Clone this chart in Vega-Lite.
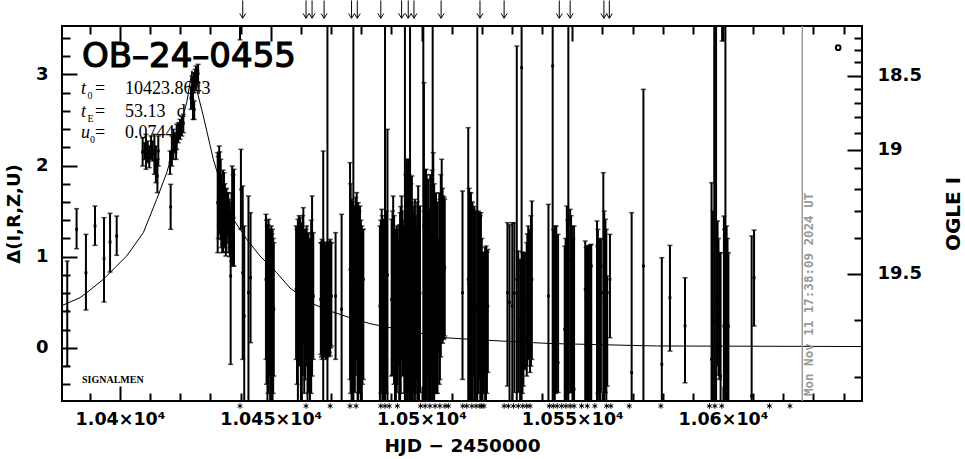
{
  "$schema": "https://vega.github.io/schema/vega-lite/v6.json",
  "width": 800,
  "height": 375,
  "autosize": {"type": "none"},
  "padding": {"left": 62, "top": 26, "right": 103, "bottom": 58},
  "background": "white",
  "config": {
    "view": {"stroke": "black", "strokeWidth": 2},
    "axis": {"domain": false, "grid": false, "ticks": true, "zindex": 1, "labelFont": "DejaVu Sans", "labelFontWeight": "bold", "labelColor": "black", "tickColor": "black", "tickWidth": 2, "tickOpacity": 1, "titleFont": "DejaVu Sans", "titleFontWeight": "bold", "titleColor": "black", "labelFlush": false, "labelOverlap": false, "labelBound": false}
  },
  "datasets": {
    "model": [
      {"t": 10380.76, "d": 0.464}, {"t": 10386.73, "d": 0.55}, {"t": 10388.7, "d": 0.598}, {"t": 10394.46, "d": 0.752},
      {"t": 10402.22, "d": 1.008}, {"t": 10407.73, "d": 1.263}, {"t": 10412.17, "d": 1.63}, {"t": 10415.49, "d": 1.922},
      {"t": 10418.81, "d": 2.289}, {"t": 10422.12, "d": 2.69}, {"t": 10423.86, "d": 3.04}, {"t": 10427.63, "d": 2.544},
      {"t": 10430.95, "d": 2.069}, {"t": 10434.26, "d": 1.703}, {"t": 10437.58, "d": 1.411}, {"t": 10442.02, "d": 1.191},
      {"t": 10446.43, "d": 1.008}, {"t": 10451.97, "d": 0.824}, {"t": 10456.38, "d": 0.656}, {"t": 10463.02, "d": 0.495},
      {"t": 10469.65, "d": 0.404}, {"t": 10476.29, "d": 0.33}, {"t": 10482.92, "d": 0.265}, {"t": 10489.55, "d": 0.221},
      {"t": 10507.79, "d": 0.111}, {"t": 10516.09, "d": 0.093}, {"t": 10526.04, "d": 0.075}, {"t": 10542.62, "d": 0.047},
      {"t": 10578.01, "d": 0.02}, {"t": 10646.1, "d": 0.014}
    ],
    "pts": [
      {"t": 10382.5, "d": 0.404, "lo": -0.2, "hi": 0.952},
      {"t": 10385.6, "d": 1.3, "lo": 1.088, "hi": 1.527},
      {"t": 10388.7, "d": 0.824, "lo": 0.415, "hi": 1.245},
      {"t": 10391.7, "d": 1.337, "lo": 1.124, "hi": 1.556},
      {"t": 10394.7, "d": 0.978, "lo": 0.502, "hi": 1.428},
      {"t": 10396.7, "d": 1.161, "lo": 0.832, "hi": 1.476},
      {"t": 10398.9, "d": 1.227, "lo": 1.015, "hi": 1.446},
      {"t": 10407.5, "d": 2.149, "lo": 1.995, "hi": 2.306},
      {"t": 10408.1, "d": 2.16, "lo": 2.068, "hi": 2.251},
      {"t": 10408.6, "d": 2.141, "lo": 1.959, "hi": 2.343},
      {"t": 10409.2, "d": 2.149, "lo": 2.032, "hi": 2.27},
      {"t": 10409.7, "d": 2.087, "lo": 1.977, "hi": 2.215},
      {"t": 10410.3, "d": 2.215, "lo": 2.068, "hi": 2.325},
      {"t": 10410.8, "d": 2.16, "lo": 2.05, "hi": 2.27},
      {"t": 10411.4, "d": 2.123, "lo": 1.904, "hi": 2.343},
      {"t": 10411.9, "d": 2.014, "lo": 1.812, "hi": 2.215},
      {"t": 10412.4, "d": 1.886, "lo": 1.703, "hi": 2.069},
      {"t": 10412.7, "d": 2.16, "lo": 1.995, "hi": 2.325},
      {"t": 10416.6, "d": 2.032, "lo": 1.904, "hi": 2.16},
      {"t": 10416.8, "d": 1.545, "lo": 1.3, "hi": 1.794},
      {"t": 10417.2, "d": 2.16, "lo": 1.995, "hi": 2.325},
      {"t": 10417.7, "d": 2.233, "lo": 2.068, "hi": 2.398},
      {"t": 10418.2, "d": 2.251, "lo": 2.142, "hi": 2.361},
      {"t": 10418.6, "d": 2.178, "lo": 2.068, "hi": 2.288},
      {"t": 10418.8, "d": 2.314, "lo": 2.178, "hi": 2.453},
      {"t": 10419.3, "d": 2.361, "lo": 2.251, "hi": 2.471},
      {"t": 10419.9, "d": 2.398, "lo": 2.288, "hi": 2.507},
      {"t": 10420.5, "d": 2.434, "lo": 2.325, "hi": 2.544},
      {"t": 10421.0, "d": 2.464, "lo": 2.361, "hi": 2.562},
      {"t": 10423.55, "d": 2.745, "lo": 2.617, "hi": 2.873},
      {"t": 10423.9, "d": 2.855, "lo": 2.727, "hi": 2.983},
      {"t": 10424.2, "d": 2.654, "lo": 2.507, "hi": 2.8},
      {"t": 10424.5, "d": 2.91, "lo": 2.8, "hi": 3.02},
      {"t": 10424.6, "d": 2.617, "lo": 2.507, "hi": 2.709},
      {"t": 10424.9, "d": 2.946, "lo": 2.837, "hi": 3.056},
      {"t": 10425.2, "d": 2.983, "lo": 2.855, "hi": 3.093},
      {"t": 10425.5, "d": 2.954, "lo": 2.873, "hi": 3.038},
      {"t": 10425.9, "d": 3.01, "lo": 2.91, "hi": 3.111},
      {"t": 10432.4, "d": 1.593, "lo": 1.044, "hi": 2.142},
      {"t": 10432.6, "d": 1.65, "lo": 1.2, "hi": 2.1},
      {"t": 10432.9, "d": 1.776, "lo": 1.337, "hi": 2.215},
      {"t": 10433.1, "d": 1.7, "lo": 1.25, "hi": 2.15},
      {"t": 10433.4, "d": 1.629, "lo": 1.19, "hi": 2.069},
      {"t": 10433.6, "d": 1.5, "lo": 1.1, "hi": 1.9},
      {"t": 10433.9, "d": 1.428, "lo": 1.044, "hi": 1.812},
      {"t": 10434.2, "d": 1.48, "lo": 1.05, "hi": 1.95},
      {"t": 10434.5, "d": 1.556, "lo": 1.19, "hi": 1.922},
      {"t": 10434.8, "d": 1.45, "lo": 1.1, "hi": 1.8},
      {"t": 10435.1, "d": 1.373, "lo": 1.007, "hi": 1.739},
      {"t": 10435.3, "d": 1.4, "lo": 1.05, "hi": 1.75},
      {"t": 10435.6, "d": 1.465, "lo": 1.227, "hi": 1.703},
      {"t": 10435.9, "d": 1.42, "lo": 1.15, "hi": 1.7},
      {"t": 10436.2, "d": 1.337, "lo": 1.044, "hi": 1.629},
      {"t": 10436.4, "d": 1.3, "lo": 1.0, "hi": 1.6},
      {"t": 10436.7, "d": 0.788, "lo": -0.182, "hi": 1.483},
      {"t": 10437.0, "d": 1.3, "lo": 0.95, "hi": 1.7},
      {"t": 10437.2, "d": 1.446, "lo": 0.898, "hi": 1.995},
      {"t": 10437.5, "d": 1.35, "lo": 0.9, "hi": 1.9},
      {"t": 10437.8, "d": 1.428, "lo": 0.898, "hi": 1.959},
      {"t": 10439.8, "d": 3.9, "lo": 3.38, "hi": 4.2},
      {"t": 10440.1, "d": 1.739, "lo": 1.3, "hi": 2.178},
      {"t": 10440.7, "d": 0.824, "lo": -0.127, "hi": 1.776},
      {"t": 10441.2, "d": 0.349, "lo": -0.7, "hi": 1.337},
      {"t": 10442.6, "d": 0.605, "lo": -0.6, "hi": 1.666},
      {"t": 10443.3, "d": 0.769, "lo": 0.056, "hi": 1.483},
      {"t": 10448.4, "d": 0.751, "lo": -0.127, "hi": 1.465},
      {"t": 10448.6, "d": 0.6, "lo": -0.4, "hi": 1.4},
      {"t": 10448.9, "d": 0.532, "lo": -0.65, "hi": 1.337},
      {"t": 10449.1, "d": 0.8, "lo": -0.5, "hi": 1.35},
      {"t": 10449.3, "d": 0.971, "lo": -0.054, "hi": 1.41},
      {"t": 10449.5, "d": 0.7, "lo": -0.3, "hi": 1.3},
      {"t": 10449.8, "d": 0.385, "lo": -0.7, "hi": 1.264},
      {"t": 10450.0, "d": 0.5, "lo": -0.8, "hi": 1.3},
      {"t": 10450.2, "d": 0.824, "lo": -0.75, "hi": 1.337},
      {"t": 10450.4, "d": 0.65, "lo": -0.6, "hi": 1.25},
      {"t": 10450.6, "d": 0.532, "lo": -0.8, "hi": 1.3},
      {"t": 10450.8, "d": 0.45, "lo": -0.5, "hi": 1.2},
      {"t": 10451.0, "d": 0.422, "lo": -0.31, "hi": 1.154},
      {"t": 10458.4, "d": 0.641, "lo": -0.127, "hi": 1.337},
      {"t": 10458.7, "d": 0.7, "lo": -0.4, "hi": 1.3},
      {"t": 10459.0, "d": 0.751, "lo": -0.7, "hi": 1.41},
      {"t": 10459.4, "d": 0.85, "lo": -0.2, "hi": 1.45},
      {"t": 10459.7, "d": 0.971, "lo": 0.166, "hi": 1.428},
      {"t": 10460.0, "d": 0.75, "lo": -0.6, "hi": 1.35},
      {"t": 10460.3, "d": 0.605, "lo": -0.8, "hi": 1.373},
      {"t": 10460.6, "d": 0.7, "lo": -0.3, "hi": 1.45},
      {"t": 10460.8, "d": 0.824, "lo": 0.056, "hi": 1.538},
      {"t": 10461.1, "d": 0.6, "lo": -0.5, "hi": 1.3},
      {"t": 10461.4, "d": 0.532, "lo": -0.35, "hi": 1.227},
      {"t": 10461.7, "d": 0.65, "lo": -0.2, "hi": 1.3},
      {"t": 10461.9, "d": 0.788, "lo": 0.239, "hi": 1.337},
      {"t": 10462.2, "d": 0.55, "lo": -0.6, "hi": 1.25},
      {"t": 10462.5, "d": 0.495, "lo": -0.49, "hi": 1.264},
      {"t": 10462.8, "d": 0.5, "lo": -0.4, "hi": 1.2},
      {"t": 10463.0, "d": 0.495, "lo": -0.7, "hi": 1.19},
      {"t": 10463.4, "d": 0.6, "lo": -0.5, "hi": 1.4},
      {"t": 10463.7, "d": 0.678, "lo": -0.31, "hi": 1.666},
      {"t": 10464.1, "d": 0.568, "lo": -0.127, "hi": 1.264},
      {"t": 10466.6, "d": 0.532, "lo": -0.072, "hi": 1.154},
      {"t": 10466.8, "d": 0.55, "lo": -0.1, "hi": 1.15},
      {"t": 10467.0, "d": 0.605, "lo": -0.127, "hi": 1.19},
      {"t": 10467.2, "d": 0.6, "lo": -0.05, "hi": 1.17},
      {"t": 10467.4, "d": 0.7, "lo": -0.7, "hi": 2.16},
      {"t": 10467.7, "d": 0.55, "lo": -0.1, "hi": 1.15},
      {"t": 10467.9, "d": 0.568, "lo": -0.017, "hi": 1.154},
      {"t": 10468.1, "d": 0.5, "lo": -0.1, "hi": 1.12},
      {"t": 10468.3, "d": 0.495, "lo": -0.127, "hi": 1.117},
      {"t": 10468.6, "d": 0.55, "lo": -0.08, "hi": 1.15},
      {"t": 10468.8, "d": 3.9, "lo": -0.8, "hi": 4.2},
      {"t": 10469.0, "d": 0.6, "lo": -0.1, "hi": 1.16},
      {"t": 10469.2, "d": 0.605, "lo": -0.072, "hi": 1.154},
      {"t": 10469.5, "d": 0.55, "lo": -0.05, "hi": 1.17},
      {"t": 10469.7, "d": 0.532, "lo": -0.09, "hi": 1.19},
      {"t": 10469.9, "d": 0.56, "lo": 0.0, "hi": 1.15},
      {"t": 10470.1, "d": 0.568, "lo": 0.02, "hi": 1.154},
      {"t": 10471.5, "d": 0.568, "lo": -0.127, "hi": 1.264},
      {"t": 10473.5, "d": 0.422, "lo": -0.7, "hi": 1.465},
      {"t": 10476.3, "d": 0.861, "lo": -0.347, "hi": 2.032},
      {"t": 10476.5, "d": 0.7, "lo": -0.5, "hi": 1.8},
      {"t": 10476.8, "d": 0.605, "lo": -0.7, "hi": 1.629},
      {"t": 10477.1, "d": 0.6, "lo": -0.6, "hi": 1.6},
      {"t": 10477.4, "d": 3.9, "lo": -0.8, "hi": 4.2},
      {"t": 10477.6, "d": 0.55, "lo": -0.4, "hi": 1.5},
      {"t": 10477.9, "d": 0.532, "lo": -0.49, "hi": 1.556},
      {"t": 10478.2, "d": 0.65, "lo": -0.3, "hi": 1.65},
      {"t": 10478.5, "d": 0.715, "lo": -0.127, "hi": 1.703},
      {"t": 10478.8, "d": 0.5, "lo": -0.6, "hi": 1.55},
      {"t": 10479.0, "d": 0.312, "lo": -0.8, "hi": 1.593},
      {"t": 10479.3, "d": 0.55, "lo": -0.5, "hi": 1.5},
      {"t": 10479.6, "d": 0.641, "lo": -0.31, "hi": 1.556},
      {"t": 10479.9, "d": 0.5, "lo": -0.6, "hi": 1.4},
      {"t": 10480.2, "d": 0.422, "lo": -0.7, "hi": 1.337},
      {"t": 10480.4, "d": 0.6, "lo": -0.4, "hi": 1.3},
      {"t": 10480.7, "d": 0.751, "lo": -0.347, "hi": 1.3},
      {"t": 10486.2, "d": 0.458, "lo": -0.7, "hi": 1.337},
      {"t": 10486.5, "d": 0.55, "lo": -0.5, "hi": 1.4},
      {"t": 10486.8, "d": 0.641, "lo": -0.31, "hi": 1.52},
      {"t": 10487.0, "d": 0.6, "lo": -0.6, "hi": 1.45},
      {"t": 10487.3, "d": 0.605, "lo": -0.8, "hi": 1.41},
      {"t": 10487.6, "d": 0.5, "lo": -0.7, "hi": 1.35},
      {"t": 10487.9, "d": 3.9, "lo": -0.8, "hi": 4.2},
      {"t": 10488.3, "d": 0.6, "lo": -0.5, "hi": 1.5},
      {"t": 10488.7, "d": 0.8, "lo": -0.8, "hi": 2.398},
      {"t": 10490.1, "d": 0.532, "lo": -0.31, "hi": 1.41},
      {"t": 10490.4, "d": 0.65, "lo": -0.3, "hi": 1.5},
      {"t": 10490.6, "d": 0.751, "lo": -0.127, "hi": 1.666},
      {"t": 10490.9, "d": 0.6, "lo": -0.4, "hi": 1.45},
      {"t": 10491.2, "d": 0.422, "lo": -0.7, "hi": 1.264},
      {"t": 10491.5, "d": 0.5, "lo": -0.6, "hi": 1.3},
      {"t": 10491.8, "d": 0.605, "lo": -0.49, "hi": 1.337},
      {"t": 10492.0, "d": 0.55, "lo": -0.4, "hi": 1.3},
      {"t": 10492.3, "d": 0.495, "lo": -0.2, "hi": 1.19},
      {"t": 10492.6, "d": 0.4, "lo": -0.7, "hi": 1.35},
      {"t": 10492.9, "d": 0.312, "lo": -0.8, "hi": 1.483},
      {"t": 10493.1, "d": 0.6, "lo": -0.5, "hi": 1.55},
      {"t": 10493.4, "d": 0.751, "lo": -0.127, "hi": 1.666},
      {"t": 10493.7, "d": 0.6, "lo": -0.3, "hi": 1.5},
      {"t": 10494.0, "d": 0.458, "lo": -0.31, "hi": 1.337},
      {"t": 10494.3, "d": 0.5, "lo": -0.5, "hi": 1.4},
      {"t": 10494.5, "d": 3.9, "lo": -0.8, "hi": 4.2},
      {"t": 10494.8, "d": 0.7, "lo": -0.6, "hi": 1.9},
      {"t": 10495.1, "d": 0.751, "lo": -0.8, "hi": 2.069},
      {"t": 10495.4, "d": 0.8, "lo": -0.6, "hi": 2.0},
      {"t": 10495.6, "d": 0.861, "lo": -0.49, "hi": 2.069},
      {"t": 10495.9, "d": 0.7, "lo": -0.7, "hi": 1.9},
      {"t": 10496.2, "d": 3.9, "lo": -0.8, "hi": 4.2},
      {"t": 10496.5, "d": 0.65, "lo": -0.6, "hi": 1.8},
      {"t": 10496.8, "d": 0.605, "lo": -0.8, "hi": 1.886},
      {"t": 10497.0, "d": 0.55, "lo": -0.6, "hi": 1.6},
      {"t": 10497.3, "d": 0.532, "lo": -0.49, "hi": 1.483},
      {"t": 10497.6, "d": 0.5, "lo": -0.7, "hi": 1.55},
      {"t": 10497.8, "d": 0.422, "lo": -0.8, "hi": 1.629},
      {"t": 10498.1, "d": 0.6, "lo": -0.5, "hi": 1.45},
      {"t": 10498.4, "d": 0.641, "lo": -0.347, "hi": 1.337},
      {"t": 10498.6, "d": 0.65, "lo": -0.7, "hi": 1.6},
      {"t": 10498.9, "d": 0.678, "lo": -0.8, "hi": 1.776},
      {"t": 10499.2, "d": 0.6, "lo": -0.6, "hi": 1.5},
      {"t": 10499.5, "d": 0.6, "lo": -0.49, "hi": 1.556},
      {"t": 10500.6, "d": 3.9, "lo": -0.8, "hi": 4.2},
      {"t": 10500.8, "d": 1.337, "lo": -0.8, "hi": 2.91},
      {"t": 10501.2, "d": 0.8, "lo": -0.8, "hi": 1.95},
      {"t": 10501.5, "d": 0.751, "lo": -0.8, "hi": 1.959},
      {"t": 10501.7, "d": 0.7, "lo": -0.6, "hi": 1.9},
      {"t": 10501.9, "d": 0.605, "lo": -0.31, "hi": 1.483},
      {"t": 10502.2, "d": 0.6, "lo": -0.7, "hi": 1.85},
      {"t": 10502.6, "d": 0.385, "lo": -0.8, "hi": 1.52},
      {"t": 10502.9, "d": 0.5, "lo": -0.6, "hi": 1.9},
      {"t": 10503.2, "d": 0.495, "lo": -0.347, "hi": 1.264},
      {"t": 10503.5, "d": 0.6, "lo": -0.7, "hi": 1.95},
      {"t": 10503.7, "d": 3.9, "lo": -0.8, "hi": 4.2},
      {"t": 10503.9, "d": 0.751, "lo": -0.8, "hi": 2.142},
      {"t": 10504.2, "d": 0.65, "lo": -0.6, "hi": 1.8},
      {"t": 10504.5, "d": 0.532, "lo": -0.456, "hi": 1.483},
      {"t": 10504.8, "d": 0.6, "lo": -0.5, "hi": 1.7},
      {"t": 10505.0, "d": 0.605, "lo": -0.347, "hi": 1.446},
      {"t": 10505.3, "d": 0.6, "lo": -0.5, "hi": 1.6},
      {"t": 10505.6, "d": 0.568, "lo": -0.054, "hi": 1.19},
      {"t": 10505.9, "d": 0.7, "lo": -0.4, "hi": 1.7},
      {"t": 10506.1, "d": 0.751, "lo": -0.347, "hi": 1.629},
      {"t": 10506.4, "d": 0.85, "lo": -0.1, "hi": 1.9},
      {"t": 10506.7, "d": 1.044, "lo": 0.093, "hi": 2.069},
      {"t": 10507.0, "d": 0.9, "lo": 0.05, "hi": 1.75},
      {"t": 10507.2, "d": 0.898, "lo": 0.093, "hi": 1.666},
      {"t": 10507.5, "d": 0.85, "lo": 0.1, "hi": 1.65},
      {"t": 10507.7, "d": 0.88, "lo": 0.13, "hi": 1.629},
      {"t": 10513.6, "d": 0.605, "lo": -0.347, "hi": 1.721},
      {"t": 10515.5, "d": 0.751, "lo": -0.8, "hi": 2.416},
      {"t": 10515.8, "d": 0.7, "lo": -0.6, "hi": 1.75},
      {"t": 10516.1, "d": 0.641, "lo": -0.42, "hi": 1.703},
      {"t": 10516.4, "d": 0.6, "lo": -0.7, "hi": 1.7},
      {"t": 10516.6, "d": 0.532, "lo": -0.8, "hi": 1.556},
      {"t": 10516.9, "d": 0.55, "lo": -0.8, "hi": 1.6},
      {"t": 10517.2, "d": 0.605, "lo": -0.31, "hi": 1.52},
      {"t": 10517.5, "d": 0.5, "lo": -0.6, "hi": 1.55},
      {"t": 10517.7, "d": 0.385, "lo": -0.8, "hi": 1.483},
      {"t": 10518.0, "d": 0.45, "lo": -0.8, "hi": 1.5},
      {"t": 10518.5, "d": 3.9, "lo": -0.8, "hi": 4.2},
      {"t": 10518.9, "d": 0.6, "lo": -0.5, "hi": 1.5},
      {"t": 10519.2, "d": 0.678, "lo": -0.347, "hi": 1.483},
      {"t": 10519.5, "d": 0.55, "lo": -0.7, "hi": 1.45},
      {"t": 10519.7, "d": 0.495, "lo": -0.8, "hi": 1.483},
      {"t": 10520.0, "d": 0.4, "lo": -0.6, "hi": 1.2},
      {"t": 10520.3, "d": 0.312, "lo": -0.49, "hi": 1.044},
      {"t": 10520.6, "d": 0.35, "lo": -0.5, "hi": 1.05},
      {"t": 10520.8, "d": 0.422, "lo": -0.31, "hi": 1.007},
      {"t": 10521.1, "d": 0.4, "lo": -0.7, "hi": 1.1},
      {"t": 10521.4, "d": 0.349, "lo": -0.8, "hi": 1.117},
      {"t": 10521.7, "d": 0.4, "lo": -0.5, "hi": 1.05},
      {"t": 10522.0, "d": 0.458, "lo": -0.27, "hi": 1.08},
      {"t": 10528.5, "d": 0.605, "lo": -0.42, "hi": 1.373},
      {"t": 10529.2, "d": 0.5, "lo": -0.6, "hi": 1.35},
      {"t": 10530.1, "d": 0.458, "lo": -0.8, "hi": 1.373},
      {"t": 10530.8, "d": 0.6, "lo": -0.49, "hi": 1.373},
      {"t": 10531.6, "d": 0.75, "lo": -0.8, "hi": 3.312},
      {"t": 10532.1, "d": 0.312, "lo": -0.49, "hi": 1.062},
      {"t": 10532.7, "d": 0.239, "lo": -0.8, "hi": 0.971},
      {"t": 10533.2, "d": 3.075, "lo": -0.8, "hi": 4.2},
      {"t": 10533.5, "d": 0.4, "lo": -0.5, "hi": 1.05},
      {"t": 10533.8, "d": 0.385, "lo": -0.42, "hi": 1.044},
      {"t": 10534.3, "d": 0.458, "lo": -0.237, "hi": 1.044},
      {"t": 10534.9, "d": 0.495, "lo": -0.31, "hi": 1.154},
      {"t": 10535.1, "d": 0.55, "lo": -0.2, "hi": 1.25},
      {"t": 10535.4, "d": 0.605, "lo": -0.127, "hi": 1.337},
      {"t": 10536.0, "d": 0.532, "lo": -0.27, "hi": 1.3},
      {"t": 10536.3, "d": 0.65, "lo": -0.2, "hi": 1.45},
      {"t": 10536.6, "d": 0.751, "lo": -0.127, "hi": 1.611},
      {"t": 10542.1, "d": 0.568, "lo": -0.8, "hi": 1.574},
      {"t": 10543.5, "d": 3.093, "lo": -0.8, "hi": 4.2},
      {"t": 10543.8, "d": 0.6, "lo": -0.6, "hi": 1.3},
      {"t": 10544.2, "d": 0.404, "lo": -0.8, "hi": 1.337},
      {"t": 10544.5, "d": 0.5, "lo": -0.5, "hi": 1.2},
      {"t": 10544.7, "d": 0.715, "lo": -0.49, "hi": 1.337},
      {"t": 10545.3, "d": -0.163, "lo": -0.49, "hi": 1.245},
      {"t": 10547.5, "d": 0.202, "lo": -0.8, "hi": 1.117},
      {"t": 10547.8, "d": 0.4, "lo": -0.7, "hi": 1.2},
      {"t": 10548.2, "d": 0.495, "lo": -0.8, "hi": 1.556},
      {"t": 10548.5, "d": 0.6, "lo": -0.5, "hi": 1.4},
      {"t": 10548.7, "d": 3.9, "lo": -0.8, "hi": 4.2},
      {"t": 10549.3, "d": 0.971, "lo": -0.49, "hi": 1.52},
      {"t": 10549.6, "d": 0.7, "lo": -0.4, "hi": 1.45},
      {"t": 10549.9, "d": 0.385, "lo": -0.49, "hi": 1.337},
      {"t": 10550.2, "d": 0.3, "lo": -0.6, "hi": 1.2},
      {"t": 10550.6, "d": -0.456, "lo": -0.8, "hi": 1.337},
      {"t": 10554.3, "d": 0.641, "lo": -0.8, "hi": 1.172},
      {"t": 10554.6, "d": 0.55, "lo": -0.6, "hi": 1.1},
      {"t": 10555.0, "d": 0.605, "lo": -0.8, "hi": 1.117},
      {"t": 10555.3, "d": 0.5, "lo": -0.7, "hi": 1.12},
      {"t": 10555.7, "d": 0.093, "lo": -0.8, "hi": 1.117},
      {"t": 10556.0, "d": 0.6, "lo": -0.8, "hi": 1.13},
      {"t": 10556.3, "d": 0.898, "lo": -0.8, "hi": 1.135},
      {"t": 10558.2, "d": 1.117, "lo": -0.8, "hi": 1.392},
      {"t": 10558.5, "d": 0.7, "lo": -0.5, "hi": 1.3},
      {"t": 10558.9, "d": 0.422, "lo": -0.8, "hi": 1.19},
      {"t": 10559.2, "d": 0.6, "lo": -0.6, "hi": 1.2},
      {"t": 10559.5, "d": 0.898, "lo": -0.49, "hi": 1.19},
      {"t": 10560.3, "d": 0.605, "lo": -0.8, "hi": 1.922},
      {"t": 10560.6, "d": 0.5, "lo": -0.7, "hi": 1.5},
      {"t": 10561.0, "d": 0.13, "lo": -0.49, "hi": 1.41},
      {"t": 10561.3, "d": 0.4, "lo": -0.6, "hi": 1.3},
      {"t": 10561.6, "d": 0.605, "lo": -0.42, "hi": 0.788},
      {"t": 10562.5, "d": 0.751, "lo": 0.111, "hi": 1.245},
      {"t": 10569.7, "d": -0.273, "lo": -0.8, "hi": 1.483},
      {"t": 10573.6, "d": 0.898, "lo": -0.8, "hi": 2.837},
      {"t": 10579.7, "d": -0.182, "lo": -0.8, "hi": 0.989},
      {"t": 10582.4, "d": 0.55, "lo": -0.036, "hi": 1.124},
      {"t": 10587.4, "d": 0.239, "lo": -0.384, "hi": 0.769},
      {"t": 10596.2, "d": -0.127, "lo": -0.8, "hi": 1.812},
      {"t": 10596.6, "d": 0.3, "lo": -0.6, "hi": 1.5},
      {"t": 10597.1, "d": 0.3, "lo": -0.8, "hi": 4.2},
      {"t": 10597.7, "d": 0.5, "lo": -0.8, "hi": 4.2},
      {"t": 10598.2, "d": 0.495, "lo": -0.2, "hi": 1.392},
      {"t": 10598.5, "d": 0.45, "lo": -0.3, "hi": 1.2},
      {"t": 10598.8, "d": 0.422, "lo": -0.347, "hi": 1.044},
      {"t": 10599.2, "d": -0.31, "lo": -0.8, "hi": 1.044},
      {"t": 10599.7, "d": 3.9, "lo": 3.367, "hi": 4.2},
      {"t": 10600.3, "d": 0.239, "lo": -0.8, "hi": 1.446},
      {"t": 10600.5, "d": 0.3, "lo": -0.7, "hi": 1.3},
      {"t": 10600.8, "d": 0.2, "lo": -0.8, "hi": 4.2},
      {"t": 10601.2, "d": 0.385, "lo": -0.8, "hi": 1.337},
      {"t": 10601.5, "d": 0.3, "lo": -0.6, "hi": 1.2},
      {"t": 10601.8, "d": 0.239, "lo": -0.7, "hi": 1.044},
      {"t": 10609.5, "d": -0.53, "lo": -0.8, "hi": 1.227},
      {"t": 10610.3, "d": 0.769, "lo": 0.239, "hi": 1.292}
    ],
    "arrows": [
      {"t": 10440.7}, {"t": 10461.7}, {"t": 10463.7}, {"t": 10467.7}, {"t": 10476.8}, {"t": 10478.7},
      {"t": 10486.5}, {"t": 10493.4}, {"t": 10495.6}, {"t": 10497.5}, {"t": 10506.5}, {"t": 10519.4},
      {"t": 10527.4}, {"t": 10545.7}, {"t": 10549.3}, {"t": 10560.5}, {"t": 10562.3}
    ],
    "low": [
      {"t": 10439.8}, {"t": 10461.7}, {"t": 10469.7}, {"t": 10476.3}, {"t": 10478.3}, {"t": 10486.5},
      {"t": 10487.9}, {"t": 10489.3}, {"t": 10492.0}, {"t": 10499.7}, {"t": 10501.2}, {"t": 10502.8},
      {"t": 10504.5}, {"t": 10506.1}, {"t": 10507.8}, {"t": 10508.9}, {"t": 10513.7}, {"t": 10515.0},
      {"t": 10516.7}, {"t": 10518.1}, {"t": 10519.4}, {"t": 10520.0}, {"t": 10520.7}, {"t": 10527.4},
      {"t": 10528.8}, {"t": 10530.5}, {"t": 10532.1}, {"t": 10533.6}, {"t": 10534.9}, {"t": 10536.0},
      {"t": 10542.4}, {"t": 10543.7}, {"t": 10545.0}, {"t": 10546.5}, {"t": 10547.9}, {"t": 10549.3},
      {"t": 10550.6}, {"t": 10553.1}, {"t": 10555.0}, {"t": 10557.5}, {"t": 10561.4}, {"t": 10562.8},
      {"t": 10568.9}, {"t": 10579.4}, {"t": 10595.5}, {"t": 10597.3}, {"t": 10599.6}, {"t": 10615.4},
      {"t": 10622.2}
    ]
  },
  "layer": [
    {
      "data": {"values": [{"text": "OB–24–0455", "t": 10387.4, "d": 3.086}]},
      "mark": {"type": "text", "align": "left", "baseline": "alphabetic", "font": "DejaVu Sans", "fontWeight": "normal", "fontSize": 34, "color": "black", "stroke": "black", "strokeWidth": 1.2},
      "encoding": {
        "x": {"field": "t", "type": "quantitative", "scale": {"domain": [10380.76, 10646.1], "nice": false, "zero": false}, "axis": null},
        "y": {"field": "d", "type": "quantitative", "scale": {"domain": [-0.584, 3.532], "nice": false, "zero": false}, "axis": null},
        "text": {"field": "text"}
      }
    },
    {
      "data": {"values": [{"text": "t", "t": 10387.06, "d": 2.783}, {"text": "t", "t": 10387.06, "d": 2.537}, {"text": "u", "t": 10387.06, "d": 2.3}]},
      "mark": {"type": "text", "align": "left", "baseline": "alphabetic", "font": "Liberation Serif", "fontStyle": "italic", "fontSize": 18, "color": "black"},
      "encoding": {
        "x": {"field": "t", "type": "quantitative", "scale": {"domain": [10380.76, 10646.1], "nice": false, "zero": false}, "axis": null},
        "y": {"field": "d", "type": "quantitative", "scale": {"domain": [-0.584, 3.532], "nice": false, "zero": false}, "axis": null},
        "text": {"field": "text"}
      }
    },
    {
      "data": {"values": [{"text": "0", "t": 10389.2, "d": 2.731}, {"text": "E", "t": 10389.2, "d": 2.482}, {"text": "0", "t": 10390.05, "d": 2.243}]},
      "mark": {"type": "text", "align": "left", "baseline": "alphabetic", "font": "Liberation Serif", "fontSize": 10, "color": "black"},
      "encoding": {
        "x": {"field": "t", "type": "quantitative", "scale": {"domain": [10380.76, 10646.1], "nice": false, "zero": false}, "axis": null},
        "y": {"field": "d", "type": "quantitative", "scale": {"domain": [-0.584, 3.532], "nice": false, "zero": false}, "axis": null},
        "text": {"field": "text"}
      }
    },
    {
      "data": {"values": [
        {"text": "=", "t": 10391.7, "d": 2.783}, {"text": "10423.8643", "t": 10401.66, "d": 2.783},
        {"text": "=", "t": 10391.7, "d": 2.537}, {"text": "53.13", "t": 10401.66, "d": 2.537}, {"text": "d", "t": 10418.8, "d": 2.537},
        {"text": "=", "t": 10391.7, "d": 2.3}, {"text": "0.0744", "t": 10401.66, "d": 2.3}
      ]},
      "mark": {"type": "text", "align": "left", "baseline": "alphabetic", "font": "Liberation Serif", "fontSize": 18, "color": "black"},
      "encoding": {
        "x": {"field": "t", "type": "quantitative", "scale": {"domain": [10380.76, 10646.1], "nice": false, "zero": false}, "axis": null},
        "y": {"field": "d", "type": "quantitative", "scale": {"domain": [-0.584, 3.532], "nice": false, "zero": false}, "axis": null},
        "text": {"field": "text"}
      }
    },
    {
      "data": {"values": [{"text": "SIGNALMEN", "t": 10387.4, "d": -0.39}]},
      "mark": {"type": "text", "align": "left", "baseline": "alphabetic", "font": "Liberation Serif", "fontWeight": "bold", "fontSize": 10, "color": "black"},
      "encoding": {
        "x": {"field": "t", "type": "quantitative", "scale": {"domain": [10380.76, 10646.1], "nice": false, "zero": false}, "axis": null},
        "y": {"field": "d", "type": "quantitative", "scale": {"domain": [-0.584, 3.532], "nice": false, "zero": false}, "axis": null},
        "text": {"field": "text"}
      }
    },
    {
      "data": {"name": "model"},
      "mark": {"type": "line", "color": "black", "strokeWidth": 1, "clip": true},
      "encoding": {
        "x": {"field": "t", "type": "quantitative", "scale": {"domain": [10380.76, 10646.1], "nice": false, "zero": false},
          "axis": {"orient": "bottom", "offset": -15, "values": [10400, 10450, 10500, 10550, 10600], "tickSize": 15, "labelPadding": 9, "labelFontSize": 17.5, "labelExpr": "datum.value/10000 + '×10⁴'", "title": "HJD  −  2450000", "titleFontSize": 18.5, "titlePadding": 9}},
        "y": {"field": "d", "type": "quantitative", "scale": {"domain": [-0.584, 3.532], "nice": false, "zero": false},
          "axis": {"orient": "left", "offset": -15, "values": [0, 1, 2, 3], "tickSize": 15, "labelPadding": 14, "labelFontSize": 18, "format": "d", "title": "Δ(I,R,Z,U)", "titleFontSize": 18, "titlePadding": 12}}
      }
    },
    {
      "data": {"name": "pts"},
      "mark": {"type": "rule", "color": "black", "strokeWidth": 2, "clip": true},
      "encoding": {
        "x": {"field": "t", "type": "quantitative", "scale": {"domain": [10380.76, 10646.1], "nice": false, "zero": false},
          "axis": {"orient": "bottom", "offset": -8, "values": [10390, 10410, 10420, 10430, 10440, 10460, 10470, 10480, 10490, 10510, 10520, 10530, 10540, 10560, 10570, 10580, 10590, 10610, 10620, 10630, 10640], "tickSize": 8, "labels": false, "title": null}},
        "y": {"field": "lo", "type": "quantitative", "scale": {"domain": [-0.584, 3.532], "nice": false, "zero": false},
          "axis": {"orient": "left", "offset": -8, "values": [-0.4, -0.2, 0.2, 0.4, 0.6, 0.8, 1.2, 1.4, 1.6, 1.8, 2.2, 2.4, 2.6, 2.8, 3.2, 3.4], "tickSize": 8, "labels": false, "title": null}},
        "y2": {"field": "hi"}
      }
    },
    {
      "data": {"name": "pts"},
      "mark": {"type": "tick", "orient": "horizontal", "size": 5, "thickness": 1.5, "color": "black", "clip": true},
      "encoding": {
        "x": {"field": "t", "type": "quantitative", "scale": {"domain": [10380.76, 10646.1], "nice": false, "zero": false},
          "axis": {"orient": "top", "offset": -15, "values": [10400, 10450, 10500, 10550, 10600], "tickSize": 15, "labels": false, "title": null}},
        "y": {"field": "lo", "type": "quantitative", "scale": {"domain": [-0.584, 3.532], "nice": false, "zero": false},
          "axis": {"orient": "right", "offset": -15, "values": [2.984, 2.171, 0.81], "tickSize": 15, "labelPadding": 15, "labelFontSize": 18, "labelExpr": "datum.value > 2.5 ? '18.5' : datum.value > 1.5 ? '19' : '19.5'", "title": "OGLE I", "titleAngle": 270, "titleBaseline": "top", "titleFontSize": 20, "titlePadding": 22}}
      }
    },
    {
      "data": {"name": "pts"},
      "mark": {"type": "tick", "orient": "horizontal", "size": 5, "thickness": 1.5, "color": "black", "clip": true},
      "encoding": {
        "x": {"field": "t", "type": "quantitative", "scale": {"domain": [10380.76, 10646.1], "nice": false, "zero": false},
          "axis": {"orient": "top", "offset": -8, "values": [10390, 10410, 10420, 10430, 10440, 10460, 10470, 10480, 10490, 10510, 10520, 10530, 10540, 10560, 10570, 10580, 10590, 10610, 10620, 10630, 10640], "tickSize": 8, "labels": false, "title": null}},
        "y": {"field": "hi", "type": "quantitative", "scale": {"domain": [-0.584, 3.532], "nice": false, "zero": false},
          "axis": {"orient": "right", "offset": -8, "values": [3.404, 3.269, 3.134, 2.841, 2.69, 2.53, 2.355, 1.97, 1.743, 1.502, 1.202, 0.305, -0.317], "tickSize": 8, "labels": false, "title": null}}
      }
    },
    {
      "data": {"name": "pts"},
      "mark": {"type": "point", "shape": "square", "filled": true, "size": 8, "color": "black", "opacity": 1, "clip": true},
      "encoding": {
        "x": {"field": "t", "type": "quantitative", "scale": {"domain": [10380.76, 10646.1], "nice": false, "zero": false}, "axis": null},
        "y": {"field": "d", "type": "quantitative", "scale": {"domain": [-0.584, 3.532], "nice": false, "zero": false}, "axis": null}
      }
    },
    {
      "data": {"name": "arrows"},
      "mark": {"type": "rule", "color": "black", "strokeWidth": 1},
      "encoding": {
        "x": {"field": "t", "type": "quantitative", "scale": {"domain": [10380.76, 10646.1], "nice": false, "zero": false}, "axis": null},
        "y": {"datum": 3.617, "type": "quantitative", "scale": {"domain": [-0.584, 3.532], "nice": false, "zero": false}, "axis": null},
        "y2": {"datum": 3.812}
      }
    },
    {
      "data": {"name": "arrows"},
      "mark": {"type": "point", "shape": "M-1,-1.6L0,0L1,-1.6", "filled": false, "size": 36, "color": "black", "strokeWidth": 1, "opacity": 1},
      "encoding": {
        "x": {"field": "t", "type": "quantitative", "scale": {"domain": [10380.76, 10646.1], "nice": false, "zero": false}, "axis": null},
        "y": {"datum": 3.617, "type": "quantitative", "scale": {"domain": [-0.584, 3.532], "nice": false, "zero": false}, "axis": null}
      }
    },
    {
      "data": {"name": "low"},
      "mark": {"type": "point", "shape": "M0,-1L0,1M-0.87,-0.5L0.87,0.5M-0.87,0.5L0.87,-0.5", "filled": false, "size": 30, "color": "black", "strokeWidth": 1, "opacity": 1},
      "encoding": {
        "x": {"field": "t", "type": "quantitative", "scale": {"domain": [10380.76, 10646.1], "nice": false, "zero": false}, "axis": null},
        "y": {"datum": -0.639, "type": "quantitative", "scale": {"domain": [-0.584, 3.532], "nice": false, "zero": false}, "axis": null}
      }
    },
    {
      "data": {"values": [{"t": 10626.3}]},
      "mark": {"type": "rule", "color": "#999999", "strokeWidth": 1.5},
      "encoding": {
        "x": {"field": "t", "type": "quantitative", "scale": {"domain": [10380.76, 10646.1], "nice": false, "zero": false}, "axis": null}
      }
    },
    {
      "data": {"values": [{"text": "Mon Nov 11 17:38:09 2024 UT", "t": 10629.85, "d": -0.529}]},
      "mark": {"type": "text", "angle": 270, "align": "left", "baseline": "alphabetic", "font": "DejaVu Sans Mono", "fontWeight": "bold", "fontSize": 12.5, "color": "#999999"},
      "encoding": {
        "x": {"field": "t", "type": "quantitative", "scale": {"domain": [10380.76, 10646.1], "nice": false, "zero": false}, "axis": null},
        "y": {"field": "d", "type": "quantitative", "scale": {"domain": [-0.584, 3.532], "nice": false, "zero": false}, "axis": null},
        "text": {"field": "text"}
      }
    },
    {
      "data": {"values": [{"t": 10638.2, "d": 3.294}]},
      "mark": {"type": "point", "shape": "circle", "filled": false, "size": 22, "color": "black", "strokeWidth": 2, "opacity": 1},
      "encoding": {
        "x": {"field": "t", "type": "quantitative", "scale": {"domain": [10380.76, 10646.1], "nice": false, "zero": false}, "axis": null},
        "y": {"field": "d", "type": "quantitative", "scale": {"domain": [-0.584, 3.532], "nice": false, "zero": false}, "axis": null}
      }
    }
  ],
  "resolve": {"scale": {"x": "shared", "y": "shared"}, "axis": {"x": "independent", "y": "independent"}}
}
